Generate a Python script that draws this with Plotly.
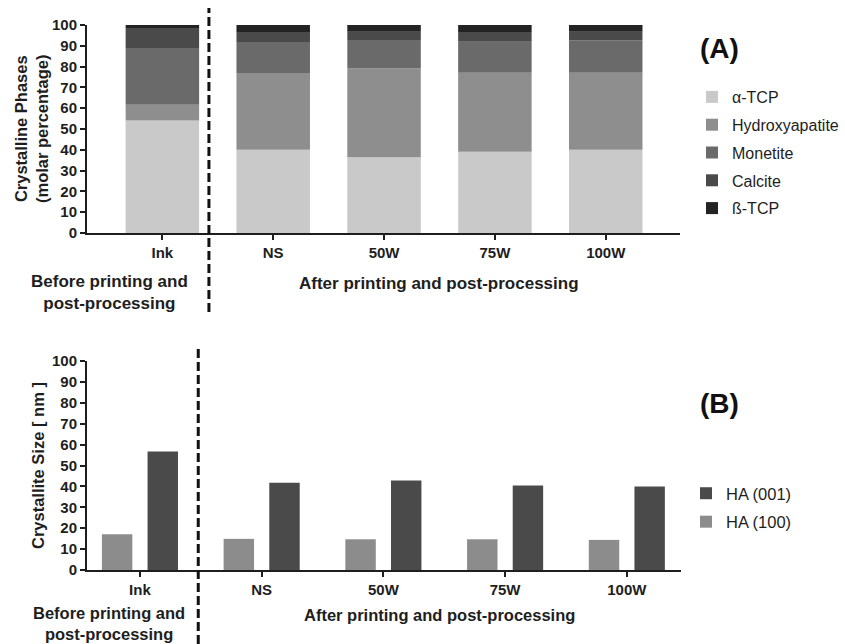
import numpy as np
import plotly.graph_objects as go

# ---- data -------------------------------------------------------------
samples = ["Ink", "NS", "50W", "75W", "100W"]

# (A) crystalline phases, molar percentage
phase_names = ["\u03b1-TCP", "Hydroxyapatite", "Monetite", "Calcite", "\u00df-TCP"]
alpha_tcp = [54.1, 40.0, 36.4, 39.1, 40.0]
hydroxyapatite = [7.6, 36.9, 42.7, 38.0, 37.1]
monetite = [27.2, 14.9, 13.7, 14.9, 15.4]
calcite = [9.7, 4.8, 4.0, 4.6, 4.3]
beta_tcp = [1.4, 3.4, 3.2, 3.4, 3.2]
phase_colors = ["#c9c9c9", "#8e8e8e", "#6a6a6a", "#4a4a4a", "#232323"]

# (B) crystallite size, nm
ha_100 = [17.1, 14.9, 14.7, 14.7, 14.4]
ha_001 = [56.7, 41.8, 42.8, 40.4, 39.9]

y_ticks = list(range(0, 101, 10))

# ---- styling ----------------------------------------------------------
FONT = "Arial, Liberation Sans, sans-serif"
INK = "#1e1e1e"

fig = go.Figure()

# stacked phase bars: each layer sits on the cumulative sum of the ones below
phase_values = [alpha_tcp, hydroxyapatite, monetite, calcite, beta_tcp]
base = np.zeros(len(samples))
for name, vals, col in zip(phase_names, phase_values, phase_colors):
    fig.add_trace(go.Bar(
        x=list(range(len(samples))), y=vals, base=base.tolist(), name=name,
        marker=dict(color=col, line=dict(width=0)),
        width=0.663, offset=-0.3315,
        xaxis="x", yaxis="y", legend="legend", legendgroup=name,
    ))
    base = base + np.array(vals)

# grouped crystallite-size bars
fig.add_trace(go.Bar(
    x=list(range(len(samples))), y=ha_100, name="HA (100)",
    marker=dict(color="#8c8c8c", line=dict(width=0)),
    width=0.25, offset=-0.3125, legendrank=2,
    xaxis="x2", yaxis="y2", legend="legend2", legendgroup="ha100",
))
fig.add_trace(go.Bar(
    x=list(range(len(samples))), y=ha_001, name="HA (001)",
    marker=dict(color="#4a4a4a", line=dict(width=0)),
    width=0.25, offset=0.0625, legendrank=1,
    xaxis="x2", yaxis="y2", legend="legend2", legendgroup="ha001",
))

tick_font = dict(family=FONT, size=15, color=INK, weight="bold")
title_font = dict(family=FONT, size=16.5, color=INK, weight="bold")

common_x = dict(
    tickmode="array", tickvals=list(range(len(samples))), ticktext=samples,
    ticks="outside", ticklen=5, tickwidth=2, tickcolor=INK,
    showline=True, linewidth=2, linecolor=INK, showgrid=False, zeroline=False,
    tickfont=tick_font, fixedrange=True,
)
common_y = dict(
    range=[0, 100], tickmode="array", tickvals=y_ticks,
    ticks="outside", ticklen=5, tickwidth=2, tickcolor=INK,
    showline=True, linewidth=2, linecolor=INK, showgrid=False, zeroline=False,
    tickfont=tick_font, fixedrange=True,
)

fig.update_layout(
    width=845, height=644,
    margin=dict(l=0, r=0, t=0, b=0, autoexpand=False),
    paper_bgcolor="white", plot_bgcolor="white",
    barmode="overlay",
    showlegend=True,
    font=dict(family=FONT, color=INK),
    xaxis=dict(domain=[87 / 845, 680 / 845], range=[-0.68, 4.67], anchor="y", **common_x),
    yaxis=dict(domain=[1 - 233 / 644, 1 - 25 / 644], anchor="x", **common_y),
    xaxis2=dict(domain=[87 / 845, 681 / 845], range=[-0.435, 4.445], anchor="y2", **common_x),
    yaxis2=dict(domain=[1 - 570 / 644, 1 - 361 / 644], anchor="x2", **common_y),
    legend=dict(
        x=692 / 845, y=1 - 80 / 644, xanchor="left", yanchor="top",
        traceorder="grouped", tracegroupgap=4,
        font=dict(family=FONT, size=16, color=INK),
        bgcolor="rgba(0,0,0,0)",
    ),
    legend2=dict(
        x=686 / 845, y=1 - 476 / 644, xanchor="left", yanchor="top",
        traceorder="grouped", tracegroupgap=4,
        font=dict(family=FONT, size=16.5, color=INK),
        bgcolor="rgba(0,0,0,0)",
    ),
)

group_font = dict(family=FONT, size=17, color=INK, weight="bold")
annotations = [
    # axis titles
    dict(text="Crystalline Phases<br>(molar percentage)", textangle=-90,
         x=31 / 845, y=1 - 129 / 644, xref="paper", yref="paper",
         xanchor="center", yanchor="middle", align="center", showarrow=False,
         font=title_font),
    dict(text="Crystallite Size [ nm ]", textangle=-90,
         x=38 / 845, y=1 - 466 / 644, xref="paper", yref="paper",
         xanchor="center", yanchor="middle", align="center", showarrow=False,
         font=title_font),
    # panel letters
    dict(text="(A)", x=698 / 845, y=1 - 48 / 644, xref="paper", yref="paper",
         xanchor="left", yanchor="middle", showarrow=False,
         font=dict(family=FONT, size=28, color="#111", weight="bold")),
    dict(text="(B)", x=698 / 845, y=1 - 403 / 644, xref="paper", yref="paper",
         xanchor="left", yanchor="middle", showarrow=False,
         font=dict(family=FONT, size=28, color="#111", weight="bold")),
]
# category-group captions under each panel (block centre, first-line centre)
for block_mid, line_mid, fsize in ((292.5, 283, 17), (623, 615, 16.5)):
    gfont = dict(group_font, size=fsize)
    annotations.append(dict(text="Before printing and<br>post-processing",
                            x=109.5 / 845, y=1 - block_mid / 644,
                            xref="paper", yref="paper",
                            xanchor="center", yanchor="middle", align="center",
                            showarrow=False, font=gfont))
    annotations.append(dict(text="After printing and post-processing",
                            x=439 / 845, y=1 - line_mid / 644,
                            xref="paper", yref="paper",
                            xanchor="center", yanchor="middle", align="center",
                            showarrow=False, font=gfont))
fig.update_layout(annotations=annotations)

# dashed separators between the raw ink and the printed samples
fig.add_shape(type="line", xref="x", yref="paper", x0=0.42, x1=0.42,
              y0=1 - 312 / 644, y1=1 - 8 / 644,
              line=dict(color="#111", width=3, dash="9px,4px"))
fig.add_shape(type="line", xref="x2", yref="paper", x0=0.479, x1=0.479,
              y0=0, y1=1 - 348 / 644,
              line=dict(color="#111", width=3, dash="9px,4px"))

fig.write_html("out.html")
